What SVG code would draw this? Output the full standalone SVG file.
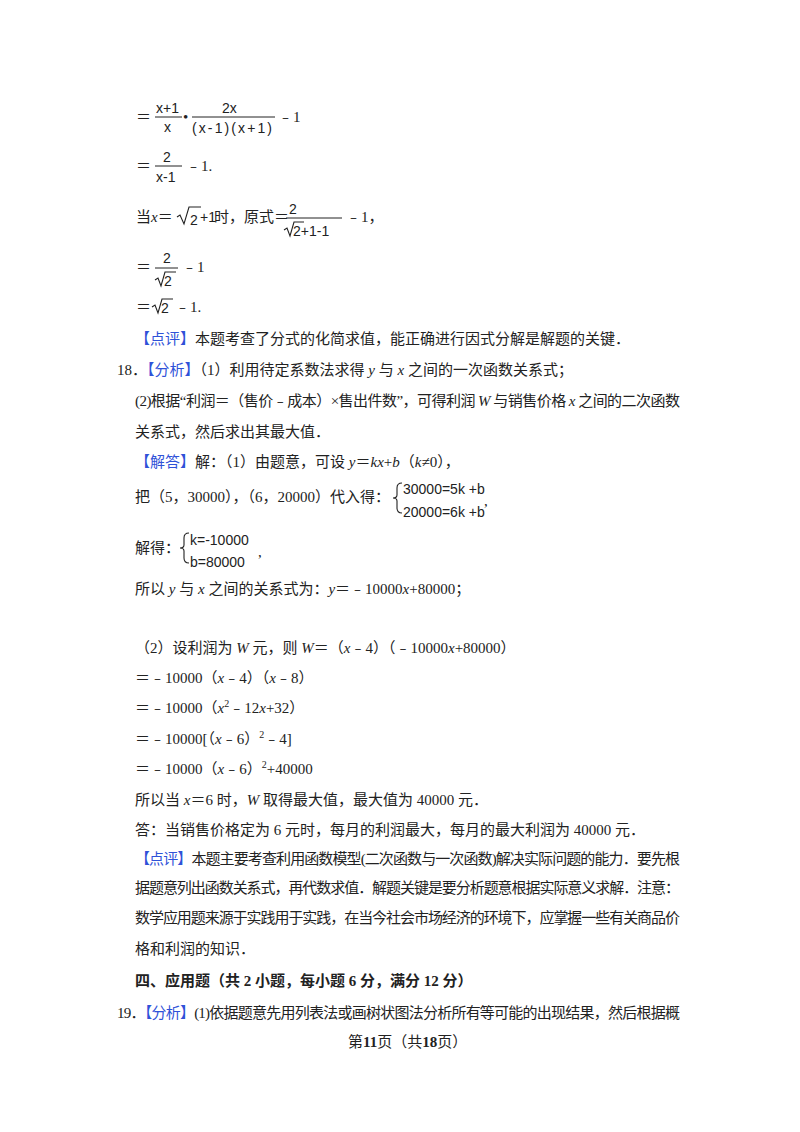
<svg xmlns="http://www.w3.org/2000/svg" width="800" height="1132" viewBox="0 0 800 1132">
<style>
text{font-family:"Liberation Serif","Noto Sans CJK SC",serif;font-size:15px;fill:#222}
.m{font-family:"Liberation Sans","Noto Sans CJK SC",sans-serif;font-size:14px}
.b{fill:#2f52d8}
.i{font-style:italic}
.bd{font-weight:bold}
line{stroke:#222;stroke-width:1}
path{fill:none;stroke:#222;stroke-width:1.1}
</style>
<rect width="800" height="1132" fill="#fff"/>
<!-- line 1 -->
<text x="136" y="122">＝</text>
<text class="m" x="156" y="113">x+1</text><line x1="155" y1="117" x2="182" y2="117"/><text class="m" x="164" y="132">x</text>
<text x="183" y="122">•</text>
<text class="m" x="222" y="113">2x</text><line x1="192" y1="117" x2="275" y2="117"/><text class="m" x="192" y="133" textLength="80">(x-1)(x+1)</text>
<text x="278" y="122">﹣1</text>
<!-- line 2 -->
<text x="136" y="171">＝</text>
<text class="m" x="163" y="162">2</text><line x1="155" y1="166" x2="182" y2="166"/><text class="m" x="156" y="182">x-1</text>
<text x="186" y="171">﹣1.</text>
<!-- line 3 -->
<text x="136" y="222">当<tspan class="i">x</tspan>＝</text>
<path d="M177,217 l3,-2 l4,9 l5,-17 h12"/><text class="m" x="190" y="225">2</text><text class="m" x="200" y="222">+1</text><text x="214" y="222">时，原式＝</text>
<text class="m" x="289" y="214">2</text><line x1="286" y1="218" x2="342" y2="218"/>
<path d="M284,230 l3,-2 l3,8 l4,-14 h10"/><text class="m" x="293" y="236">2+1-1</text>
<text x="346" y="222">﹣1，</text>
<!-- line 4 -->
<text x="136" y="272">＝</text>
<text class="m" x="163" y="263">2</text><line x1="155" y1="268" x2="178" y2="268"/>
<path d="M155,280 l3,-2 l3,8 l4,-14 h11"/><text class="m" x="164" y="286">2</text>
<text x="182" y="272">﹣1</text>
<!-- line 5 -->
<text x="136" y="312">＝</text>
<path d="M152,307 l3,-2 l3,8 l4,-14 h11"/><text class="m" x="161" y="313">2</text>
<text x="175" y="312">﹣1.</text>
<text x="135" y="344"><tspan class="b">【点评】</tspan>本题考查了分式的化简求值，能正确进行因式分解是解题的关键．</text>
<text x="117" y="375">18．<tspan class="b">【分析】</tspan>（1）利用待定系数法求得 <tspan class="i">y</tspan> 与 <tspan class="i">x</tspan> 之间的一次函数关系式；</text>
<text x="135" y="406" textLength="545">(2)根据“利润＝（售价﹣成本）×售出件数”，可得利润 <tspan class="i">W</tspan> 与销售价格 <tspan class="i">x</tspan> 之间的二次函数</text>
<text x="135" y="437">关系式，然后求出其最大值．</text>
<text x="135" y="467"><tspan class="b">【解答】</tspan>解：（1）由题意，可设 <tspan class="i">y</tspan>＝<tspan class="i">kx</tspan>+<tspan class="i">b</tspan>（<tspan class="i">k</tspan>≠0），</text>
<text x="135" y="502">把（5，30000），（6，20000）代入得：</text>
<path d="M402,483 q-5,0 -5,5 v7 q0,3 -4,3 q4,0 4,3 v7 q0,5 5,5"/>
<text class="m" x="403" y="494">30000=5k +b</text><text class="m" x="403" y="517">20000=6k +b</text><text x="484" y="506">,</text>
<text x="135" y="553">解得：</text>
<path d="M189,533 q-5,0 -5,5 v7 q0,3 -4,3 q4,0 4,3 v7 q0,5 5,5"/>
<text class="m" x="190" y="545">k=-10000</text><text class="m" x="190" y="567">b=80000</text><text x="258" y="557">,</text>
<text x="135" y="594">所以 <tspan class="i">y</tspan> 与 <tspan class="i">x</tspan> 之间的关系式为：<tspan class="i">y</tspan>＝﹣10000<tspan class="i">x</tspan>+80000；</text>
<text x="135" y="653">（2）设利润为 <tspan class="i">W</tspan> 元，则 <tspan class="i">W</tspan>＝（<tspan class="i">x</tspan>﹣4）（﹣10000<tspan class="i">x</tspan>+80000）</text>
<text x="135" y="683">＝﹣10000（<tspan class="i">x</tspan>﹣4）（<tspan class="i">x</tspan>﹣8）</text>
<text x="135" y="713">＝﹣10000（<tspan class="i">x</tspan><tspan font-size="10" dy="-6">2</tspan><tspan dy="6">﹣12</tspan><tspan class="i">x</tspan>+32）</text>
<text x="135" y="744">＝﹣10000[（<tspan class="i">x</tspan>﹣6）<tspan font-size="10" dy="-6">2</tspan><tspan dy="6">﹣4]</tspan></text>
<text x="135" y="774">＝﹣10000（<tspan class="i">x</tspan>﹣6）<tspan font-size="10" dy="-6">2</tspan><tspan dy="6">+40000</tspan></text>
<text x="135" y="805">所以当 <tspan class="i">x</tspan>＝6 时，<tspan class="i">W</tspan> 取得最大值，最大值为 40000 元．</text>
<text x="135" y="835">答：当销售价格定为 6 元时，每月的利润最大，每月的最大利润为 40000 元．</text>
<text x="135" y="864" textLength="545"><tspan class="b">【点评】</tspan>本题主要考查利用函数模型(二次函数与一次函数)解决实际问题的能力．要先根</text>
<text x="135" y="893" textLength="545">据题意列出函数关系式，再代数求值．解题关键是要分析题意根据实际意义求解．注意：</text>
<text x="135" y="923" textLength="545">数学应用题来源于实践用于实践，在当今社会市场经济的环境下，应掌握一些有关商品价</text>
<text x="135" y="954">格和利润的知识．</text>
<text x="135" y="986" class="bd">四、应用题（共 2 小题，每小题 6 分，满分 12 分）</text>
<text x="117" y="1018" textLength="563">19．<tspan class="b">【分析】</tspan>(1)依据题意先用列表法或画树状图法分析所有等可能的出现结果，然后根据概</text>
<text x="348" y="1047" font-size="12">第<tspan class="bd" font-size="15">11</tspan>页（共<tspan class="bd" font-size="15">18</tspan>页）</text>
</svg>
